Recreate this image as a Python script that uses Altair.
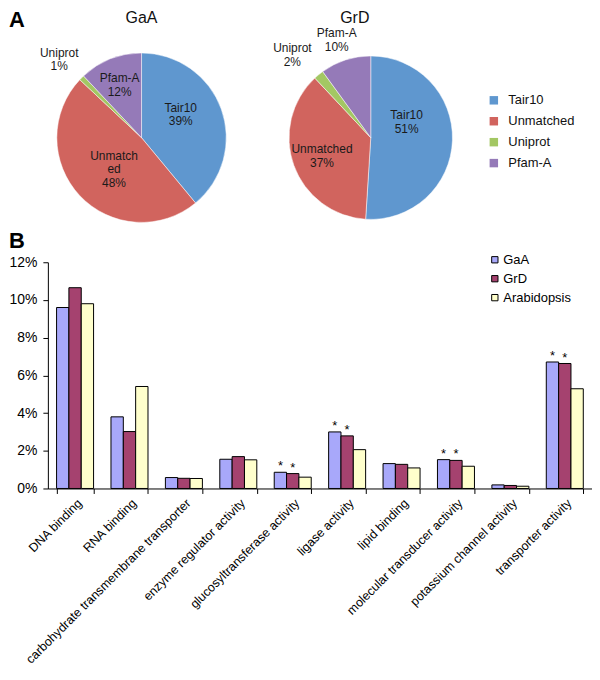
import altair as alt
import pandas as pd

# ---------------- data ----------------
SOURCES = ["Tair10", "Unmatched", "Uniprot", "Pfam-A"]
GAA_PCT = [39, 48, 1, 12]
GRD_PCT = [51, 37, 2, 10]
GAA_NAMES = ["Tair10", "Unmatch\ned", "Uniprot", "Pfam-A"]
GRD_NAMES = ["Tair10", "Unmatched", "Uniprot", "Pfam-A"]

CATEGORIES = [
    "DNA binding", "RNA binding", "carbohydrate transmembrane transporter",
    "enzyme regulator activity", "glucosyltransferase activity", "ligase activity",
    "lipid binding", "molecular transducer activity", "potassium channel activity",
    "transporter activity",
]
SERIES = ["GaA", "GrD", "Arabidopsis"]
GAA_VALS = [9.6, 3.8, 0.58, 1.55, 0.86, 3.0, 1.32, 1.53, 0.19, 6.71]
GRD_VALS = [10.65, 3.02, 0.54, 1.69, 0.79, 2.79, 1.28, 1.49, 0.16, 6.63]
ARAB_VALS = [9.8, 5.41, 0.53, 1.52, 0.6, 2.06, 1.09, 1.18, 0.12, 5.29]
SIGNIF = [False, False, False, False, True, True, False, True, False, True]
Y_TICKS = [0, 2, 4, 6, 8, 10, 12]

# ---------------- styles ----------------
FONT = "Liberation Sans"
PIE_COLORS = ["#5F97CF", "#D1645E", "#A3C763", "#957AB8"]
BAR_COLORS = ["#A8A8FA", "#A5426F", "#FFFFCC"]
LH = 13.5
# label placement per slice: (radius, dx, dy)
LABEL_STYLE = {
    ("GaA", "Tair10"): (45, -3, -8),
    ("GaA", "Unmatched"): (42, 3, 3),
    ("GaA", "Uniprot"): (114, -2, 2),
    ("GaA", "Pfam-A"): (57, -1, 0),
    ("GrD", "Tair10"): (36, 0, -17),
    ("GrD", "Unmatched"): (52, 0, 1),
    ("GrD", "Uniprot"): (114, -6, 5),
    ("GrD", "Pfam-A"): (104, -2, 1),
}
# pie centre / radius, relative to the shared view origin
PIE_GEOM = {"GaA": (94, 97, 85), "GrD": (324, 97, 82)}

rows = []
for pie, pcts, names in (("GaA", GAA_PCT, GAA_NAMES), ("GrD", GRD_PCT, GRD_NAMES)):
    for i, (s, p, n) in enumerate(zip(SOURCES, pcts, names)):
        rows.append({"pie": pie, "source": s, "pct": p, "idx": i,
                     "label": f"{n}\n{p}%"})
pie_df = pd.DataFrame(rows)

color_pie = alt.Color(
    "source:N",
    scale=alt.Scale(domain=SOURCES, range=PIE_COLORS),
    legend=alt.Legend(
        title=None, orient="none", legendX=441, legendY=53,
        symbolType="square", symbolSize=72, symbolStrokeWidth=0,
        labelFont=FONT, labelFontSize=13, labelColor="#111",
        rowPadding=7, labelOffset=8, padding=0,
    ),
)
theta = alt.Theta("pct:Q", stack=True)
order = alt.Order("idx:Q", sort="ascending")

layers = []
for pie, (cx, cy, r) in PIE_GEOM.items():
    base = alt.Chart(pie_df).transform_filter(alt.datum.pie == pie)
    layers.append(
        base.mark_arc(radius=r, stroke="white", strokeWidth=0.5).encode(
            theta=theta, order=order, color=color_pie,
            x=alt.value(cx), y=alt.value(cy),
        )
    )
    for s, name in zip(SOURCES, GAA_NAMES if pie == "GaA" else GRD_NAMES):
        rad, dx, dy = LABEL_STYLE[(pie, s)]
        nlines = name.count("\n") + 2
        layers.append(
            base.transform_calculate(
                t=f"datum.source == '{s}' ? datum.label : ''"
            ).mark_text(
                radius=rad, dx=dx, dy=dy - (nlines - 1) * LH / 2,
                font=FONT, fontSize=12, color="#1a1a1a",
                lineBreak="\n", lineHeight=LH, align="center", baseline="middle",
            ).encode(theta=theta, order=order, text="t:N",
                     x=alt.value(cx), y=alt.value(cy))
        )

layers.append(
    alt.Chart(pd.DataFrame({"t": ["GaA"]})).mark_text(
        font=FONT, fontSize=16, color="#111", baseline="top"
    ).encode(text="t:N", x=alt.value(94), y=alt.value(-31))
)
layers.append(
    alt.Chart(pd.DataFrame({"t": ["GrD"]})).mark_text(
        font=FONT, fontSize=16, color="#111", baseline="top"
    ).encode(text="t:N", x=alt.value(308), y=alt.value(-31))
)
layers.append(
    alt.Chart(pd.DataFrame({"t": ["A"]})).mark_text(
        font=FONT, fontSize=22, fontWeight="bold", color="black",
        baseline="top", align="left"
    ).encode(text="t:N", x=alt.value(-39), y=alt.value(-31))
)

top = alt.layer(*layers).properties(width=546, height=190)

# ---------------- bar chart ----------------
brows = []
for ci, c in enumerate(CATEGORIES):
    for s, vals in zip(SERIES, (GAA_VALS, GRD_VALS, ARAB_VALS)):
        brows.append({"category": c, "series": s, "value": vals[ci],
                      "sig": SIGNIF[ci] and s != "Arabidopsis"})
bar_df = pd.DataFrame(brows)

x_enc = alt.X(
    "category:N", sort=CATEGORIES,
    scale=alt.Scale(paddingInner=0.32, paddingOuter=0.16),
    axis=alt.Axis(
        title=None, labelAngle=315, labelFont=FONT, labelFontSize=12.5,
        labelColor="black", domainColor="black", tickColor="black",
        tickSize=5, tickBand="extent", labelPadding=3, labelLimit=400,
    ),
)
xo_enc = alt.XOffset("series:N", sort=SERIES,
                     scale=alt.Scale(domain=SERIES, paddingInner=0, paddingOuter=0))
y_enc = alt.Y(
    "value:Q", scale=alt.Scale(domain=[0, 12], nice=False),
    axis=alt.Axis(
        title=None, values=Y_TICKS, labelExpr="datum.value + '%'",
        labelFont=FONT, labelFontSize=14, labelColor="black",
        domainColor="black", tickColor="black", tickSize=5, grid=False,
        labelPadding=6,
    ),
)

bars = alt.Chart(bar_df).mark_bar(stroke="black", strokeWidth=1).encode(
    x=x_enc, xOffset=xo_enc, y=y_enc,
    color=alt.Color(
        "series:N", sort=SERIES,
        scale=alt.Scale(domain=SERIES, range=BAR_COLORS),
        legend=alt.Legend(
            title=None, orient="none", legendX=442, legendY=-9,
            symbolType="square", symbolSize=40, symbolStrokeColor="black",
            symbolStrokeWidth=1, labelFont=FONT, labelFontSize=13,
            labelColor="black", rowPadding=5, labelOffset=2, padding=0,
        ),
    ),
)
stars = alt.Chart(bar_df).transform_filter(alt.datum.sig).mark_text(
    text="*", font=FONT, fontSize=13, dy=-6, color="black"
).encode(x=x_enc, xOffset=xo_enc, y=y_enc)

b_label = alt.Chart(pd.DataFrame({"t": ["B"]})).mark_text(
    font=FONT, fontSize=22, fontWeight="bold", color="black",
    baseline="top", align="left"
).encode(text="t:N", x=alt.value(-39), y=alt.value(-31))

bottom = alt.layer(bars, stars, b_label).properties(width=546, height=227)

chart = alt.vconcat(top, bottom, spacing=0).resolve_scale(
    color="independent"
).resolve_legend(color="independent").properties(padding=0).configure_view(
    stroke=None
)

chart.save("out.html", embed_options={"renderer": "svg", "actions": False})
